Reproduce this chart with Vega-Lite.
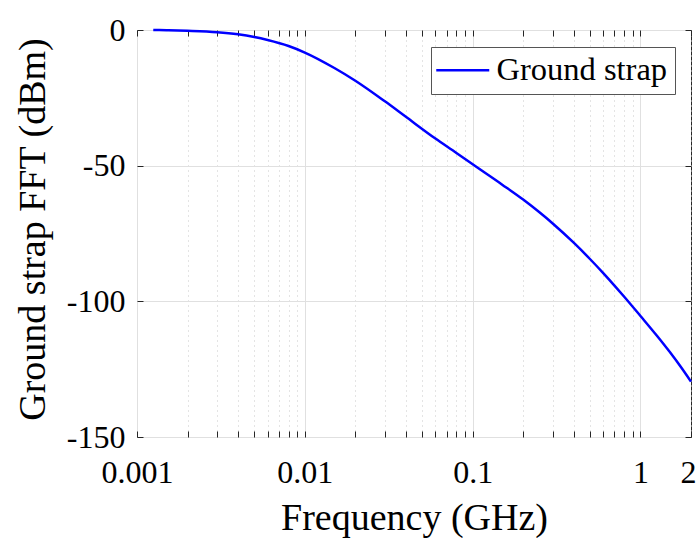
{
  "$schema": "https://vega.github.io/schema/vega-lite/v6.json",
  "autosize": {"type": "none"},
  "width": 554,
  "height": 407,
  "padding": {"left": 137, "top": 30, "right": 6, "bottom": 101},
  "background": "white",
  "config": {
    "font": "Liberation Serif",
    "view": {"stroke": "#262626", "strokeWidth": 1},
    "axis": {"labelFont": "Liberation Serif", "titleFont": "Liberation Serif", "labelColor": "#000000", "titleColor": "#000000", "titleFontWeight": "normal", "domain": false, "tickColor": "#262626", "tickWidth": 1}
  },
  "data": {"values": [
    {"f": 0.00125, "db": 0, "series": "Ground strap"},
    {"f": 0.0015, "db": -0.1, "series": "Ground strap"},
    {"f": 0.002, "db": -0.3, "series": "Ground strap"},
    {"f": 0.003, "db": -0.8, "series": "Ground strap"},
    {"f": 0.004, "db": -1.6, "series": "Ground strap"},
    {"f": 0.005, "db": -2.6, "series": "Ground strap"},
    {"f": 0.006, "db": -3.7, "series": "Ground strap"},
    {"f": 0.008, "db": -5.9, "series": "Ground strap"},
    {"f": 0.01, "db": -8.3, "series": "Ground strap"},
    {"f": 0.015, "db": -14.0, "series": "Ground strap"},
    {"f": 0.02, "db": -18.7, "series": "Ground strap"},
    {"f": 0.03, "db": -26.3, "series": "Ground strap"},
    {"f": 0.04, "db": -32.0, "series": "Ground strap"},
    {"f": 0.06, "db": -40.0, "series": "Ground strap"},
    {"f": 0.08, "db": -45.3, "series": "Ground strap"},
    {"f": 0.1, "db": -49.5, "series": "Ground strap"},
    {"f": 0.15, "db": -57.0, "series": "Ground strap"},
    {"f": 0.2, "db": -62.5, "series": "Ground strap"},
    {"f": 0.25, "db": -67.2, "series": "Ground strap"},
    {"f": 0.3, "db": -71.3, "series": "Ground strap"},
    {"f": 0.4, "db": -78.4, "series": "Ground strap"},
    {"f": 0.5, "db": -84.4, "series": "Ground strap"},
    {"f": 0.6, "db": -89.6, "series": "Ground strap"},
    {"f": 0.7, "db": -94.2, "series": "Ground strap"},
    {"f": 0.8, "db": -98.3, "series": "Ground strap"},
    {"f": 1.0, "db": -105.4, "series": "Ground strap"},
    {"f": 1.25, "db": -112.6, "series": "Ground strap"},
    {"f": 1.5, "db": -118.8, "series": "Ground strap"},
    {"f": 1.75, "db": -124.4, "series": "Ground strap"},
    {"f": 2.0, "db": -129.6, "series": "Ground strap"}
  ]},
  "layer": [
    {
      "mark": {"type": "line", "strokeWidth": 2.5, "interpolate": "monotone"},
      "encoding": {
        "x": {"field": "f", "type": "quantitative",
          "scale": {"type": "log", "domain": [0.001, 2], "nice": false},
          "axis": {
            "orient": "bottom",
            "values": [0.001, 0.002, 0.003, 0.004, 0.005, 0.006, 0.007, 0.008, 0.009, 0.01, 0.02, 0.03, 0.04, 0.05, 0.06, 0.07, 0.08, 0.09, 0.1, 0.2, 0.3, 0.4, 0.5, 0.6, 0.7, 0.8, 0.9, 1, 2],
            "labelExpr": "indexof([0.001, 0.01, 0.1, 1, 2], datum.value) >= 0 ? format(datum.value, '~g') : ''",
            "labelFontSize": 32, "labelBaseline": "alphabetic", "labelPadding": 51, "labelFlush": false, "labelOverlap": false,
            "labelOffset": {"condition": {"test": "datum.value == 2", "value": -3}, "value": 0},
            "grid": true,
            "gridColor": {"condition": {"test": "indexof([0.001, 0.01, 0.1, 1], datum.value) >= 0", "value": "#e0e0e0"}, "value": "#c8c8c8"},
            "gridDash": {"condition": {"test": "indexof([0.001, 0.01, 0.1, 1], datum.value) >= 0", "value": []}, "value": [1, 4]},
            "tickSize": -6,
            "title": "Frequency (GHz)", "titleFontSize": 38, "titleX": 277, "titleY": 92, "titleBaseline": "alphabetic", "titleAlign": "center"
          }
        },
        "y": {"field": "db", "type": "quantitative",
          "scale": {"domain": [-150, 0], "nice": false},
          "axis": {
            "orient": "left",
            "values": [0, -50, -100, -150],
            "labelExpr": "'' + datum.value",
            "labelFontSize": 32, "labelPadding": 18, "labelBaseline": "middle",
            "grid": true, "gridColor": "#e0e0e0",
            "tickSize": -6,
            "title": "Ground strap FFT (dBm)", "titleFontSize": 38, "titleX": -93, "titleY": 199, "titleAngle": -90, "titleBaseline": "alphabetic", "titleAlign": "center"
          }
        },
        "color": {"field": "series", "type": "nominal",
          "scale": {"range": ["#0000ff"]},
          "legend": {
            "orient": "none", "legendX": 294, "legendY": 17, "title": null,
            "symbolType": "M-18,0H35", "symbolSize": 4, "symbolStrokeWidth": 2.5,
            "labelFontSize": 32.5, "labelFont": "Liberation Serif", "labelColor": "#000000", "labelOffset": 26, "labelLimit": 0,
            "padding": 7, "strokeColor": "#555555", "fillColor": "white"
          }
        }
      }
    },
    {
      "mark": {"type": "line", "strokeOpacity": 0},
      "encoding": {
        "x": {"field": "f", "type": "quantitative",
          "axis": {
            "orient": "top",
            "values": [0.001, 0.002, 0.003, 0.004, 0.005, 0.006, 0.007, 0.008, 0.009, 0.01, 0.02, 0.03, 0.04, 0.05, 0.06, 0.07, 0.08, 0.09, 0.1, 0.2, 0.3, 0.4, 0.5, 0.6, 0.7, 0.8, 0.9, 1, 2],
            "labels": false, "grid": false, "tickSize": -6, "title": null
          }
        },
        "y": {"field": "db", "type": "quantitative",
          "axis": {
            "orient": "right",
            "values": [0, -50, -100, -150],
            "labels": false, "grid": false, "tickSize": -6, "title": null
          }
        }
      }
    }
  ],
  "resolve": {"axis": {"x": "independent", "y": "independent"}}
}
